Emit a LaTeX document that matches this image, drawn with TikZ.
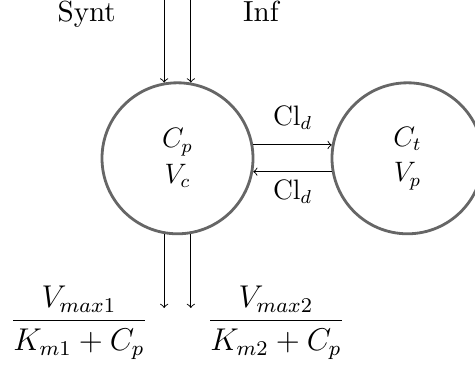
\documentclass[tikz,border=0pt]{standalone}
\usepackage{amsmath}
\usetikzlibrary{positioning, calc}
\tikzset{
  compart/.style = {circle, draw=black!60, line width=1.2pt,
                    minimum size=2.265cm, inner sep=0pt,
                    align=center, font=\large},
  flow/.style    = {->},
  source/.style  = {anchor=base, scale=1.24, transform shape},
  rate/.style    = {anchor=base, font=\large, scale=1.12, transform shape},
}
\begin{document}
\begin{tikzpicture}
\useasboundingbox (0,0) rectangle (7.125,-5.475);

% ── Compartments ─────────────────────────────────────────
\node[compart] (central) at (2.6625,-2.3745) {$C_p$\\[1.3pt]$V_c$};
\node[compart] (periph)  at (6.1125,-2.3745) {$C_t$\\[1.3pt]$V_p$};

% ── Inputs ───────────────────────────────────────────────
\coordinate (synttop) at (central.100 |- 0,0);
\coordinate (inftop)  at (central.80 |- 0,0);
\draw[flow] (synttop) -- (central.100);
\draw[flow] (inftop)  -- (central.80);

\node[source] (synt) at (1.30,-0.32) {Synt};
\node[source] (inf)  at (3.915,-0.32) {Inf};

% ── Distribution ─────────────────────────────────────────
\draw[flow] (central.10) -- node[above=3pt, font=\large] (clout) {$\mathrm{Cl}_d$} (periph.170);
\draw[flow] (periph.190) -- node[below, font=\large] (clin) {$\mathrm{Cl}_d$} (central.350);

% ── Elimination ──────────────────────────────────────────
\coordinate (elim1) at (central.260 |- 0,-4.62);
\coordinate (elim2) at (central.280 |- 0,-4.62);
\draw[flow] (central.260) -- (elim1);
\draw[flow] (central.280) -- (elim2);

\node[rate] (mm1) at (1.185,-4.93) {$\dfrac{V_{max1}}{K_{m1}+C_p}$};
\node[rate] (mm2) at (4.14,-4.93)  {$\dfrac{V_{max2}}{K_{m2}+C_p}$};

\end{tikzpicture}
\end{document}
